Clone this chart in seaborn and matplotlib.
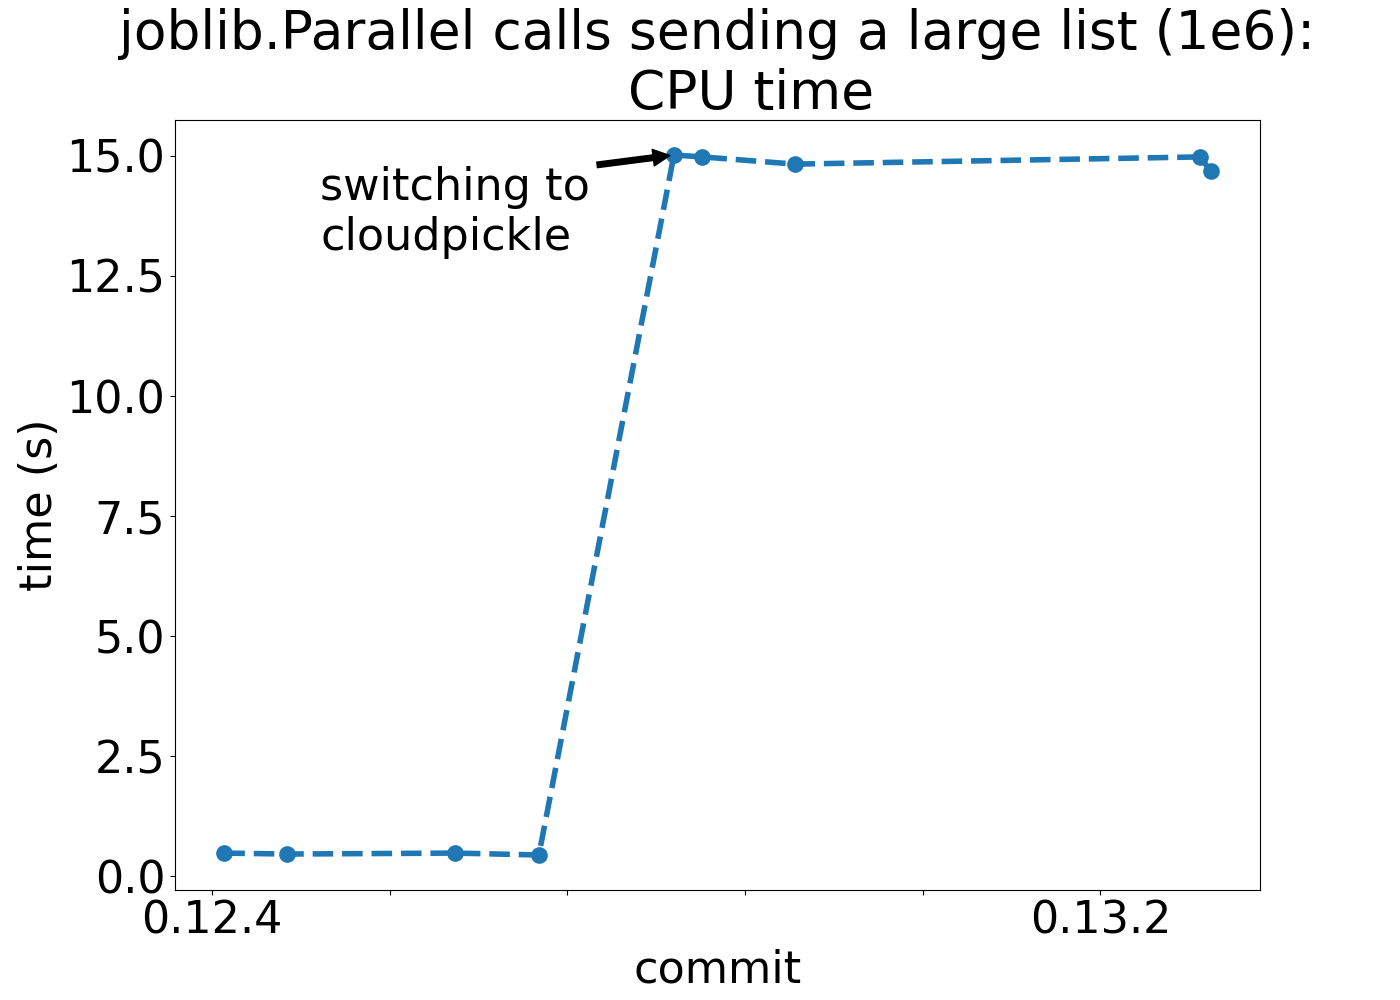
import numpy as np
import pandas as pd
import matplotlib
matplotlib.use("Agg")
import matplotlib.pyplot as plt
from matplotlib.ticker import FormatStrFormatter
import seaborn as sns

# commit positions (tick units) and CPU time in seconds
commit_pos = [0.07, 0.42, 1.37, 1.84, 2.60, 2.76, 3.28, 5.56, 5.62]
cpu_time = [0.48, 0.46, 0.48, 0.44, 15.02, 14.98, 14.83, 14.98, 14.69]

tick_pos = [0, 1, 2, 3, 4, 5]
tick_labels = ["0.12.4", "", "", "", "", "0.13.2"]
ytick_vals = [0.0, 2.5, 5.0, 7.5, 10.0, 12.5, 15.0]

df = pd.DataFrame({"commit": commit_pos, "time": cpu_time})

plt.rcParams["font.size"] = 32

fig, ax = plt.subplots(figsize=(14, 10), dpi=100)

sns.lineplot(data=df, x="commit", y="time", ax=ax, sort=False,
             color="#1f77b4", linestyle="--", linewidth=4,
             marker="o", markersize=12, markeredgewidth=0)

ax.set_xticks(tick_pos)
ax.set_xticklabels(tick_labels)
ax.set_yticks(ytick_vals)
ax.yaxis.set_major_formatter(FormatStrFormatter("%.1f"))
ax.set_xlabel("commit")
ax.set_ylabel("time (s)")
ax.set_title("joblib.Parallel calls sending a large list (1e6):\n    CPU time")

ax.annotate("switching to\ncloudpickle", xy=(commit_pos[4], cpu_time[4]),
            xytext=(0.61, 13.05),
            arrowprops=dict(facecolor="black", shrink=0.05))

fig.savefig("out.png", dpi=100)
